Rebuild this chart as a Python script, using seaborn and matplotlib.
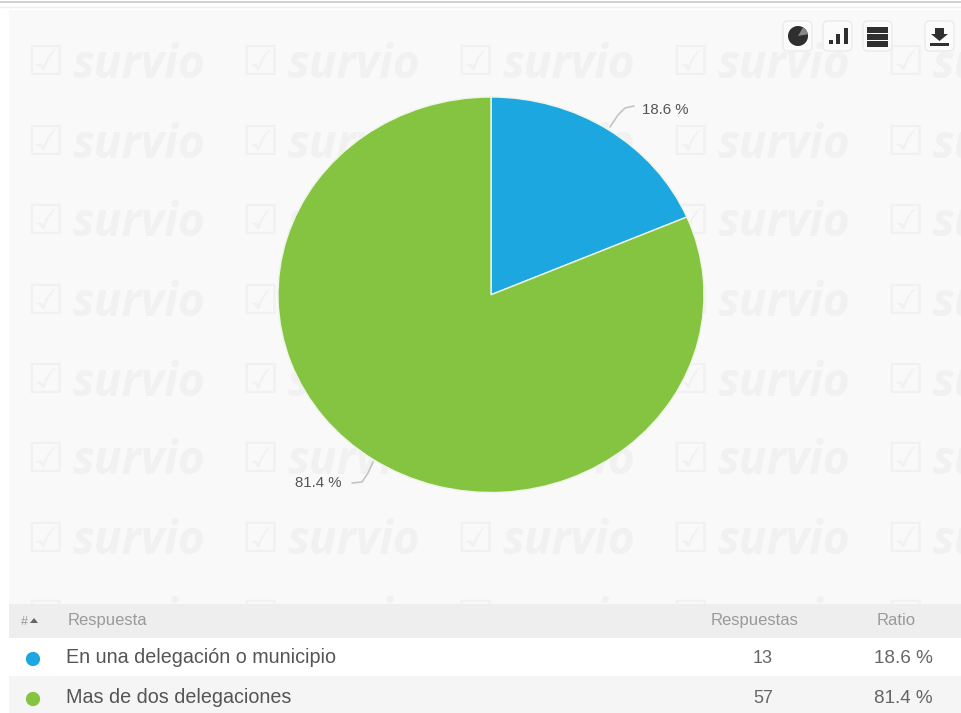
import matplotlib
matplotlib.use('Agg')
import matplotlib.pyplot as plt
from matplotlib.patches import FancyBboxPatch, Rectangle, Circle, Wedge, Polygon
import pandas as pd
import seaborn as sns

respuestas = ['En una delegación o municipio', 'Mas de dos delegaciones']
conteos = [13, 57]
ratios = ['18.6 %', '81.4 %']
colores = ['#1ca7e0', '#85c441']
cabecera = ['#', 'Respuesta', 'Respuestas', 'Ratio']

W, H = 962, 713

sns.set_theme(style='white')
plt.rcParams['font.family'] = ['Liberation Sans', 'DejaVu Sans']

fig = plt.figure(figsize=(W / 100, H / 100), dpi=100, facecolor='white')

# capa de fondo en pixeles (y hacia abajo)
bg = fig.add_axes([0, 0, 1, 1], zorder=0)
bg.set_xlim(0, W)
bg.set_ylim(H, 0)
bg.axis('off')

bg.add_patch(Rectangle((9, 10), W - 9, 600, fc='#f9f9f9', ec='none'))
bg.plot([0, W], [2, 2], color='#c9c9c9', lw=1.2)
bg.plot([0, W], [7, 7], color='#eeeeee', lw=1)

# marca de agua
for fila in [63, 143, 222, 302, 381, 460, 540, 618]:
    for col in [28, 243, 458, 673, 888]:
        bg.text(col - 2, fila, '\u2611', family='DejaVu Sans', fontsize=30, color='#f1f1f1',
                va='center', ha='left', clip_on=True)
        bg.text(col + 44, fila + 2, 'survio', family='Open Sans', fontsize=33, weight='bold',
                style='italic', color='#f1f1f1', va='center', ha='left', clip_on=True)

# tabla
bg.add_patch(Rectangle((9, 604), W - 9, 34, fc='#eeeeee', ec='none', zorder=3))
bg.add_patch(Rectangle((9, 638), W - 9, 38, fc='white', ec='none', zorder=3))
bg.add_patch(Rectangle((9, 676), W - 9, 37, fc='#f5f5f5', ec='none', zorder=3))

gris_cab = '#9a9a9a'
bg.text(21, 625, cabecera[0], fontsize=9, color=gris_cab, va='baseline', zorder=4)
bg.add_patch(Polygon([[30, 623], [38, 623], [34, 618]], fc='#666666', ec='none', zorder=4))
bg.text(68, 625, cabecera[1], fontsize=12, color=gris_cab, va='baseline', zorder=4)
bg.text(755, 625, cabecera[2], fontsize=12, color=gris_cab, va='baseline', ha='center', zorder=4)
bg.text(896, 625, cabecera[3], fontsize=12, color=gris_cab, va='baseline', ha='center', zorder=4)

filas_y = [663, 703]
tabla = pd.DataFrame({'x': [33, 33], 'y': [659, 699], 'resp': respuestas})
sns.scatterplot(data=tabla, x='x', y='y', hue='resp', palette=colores, s=105, linewidth=0,
                legend=False, ax=bg, zorder=4)
bg.set_xlim(0, W)
bg.set_ylim(H, 0)
bg.set_xlabel('')
bg.set_ylabel('')

for y, r, c, p in zip(filas_y, respuestas, conteos, ratios):
    bg.text(66, y, r, fontsize=14.2, color='#555555', va='baseline', zorder=4)
    bg.text(763, y, str(c), fontsize=13, color='#666666', va='baseline', ha='center', zorder=4)
    bg.text(903, y, p, fontsize=13.6, color='#666666', va='baseline', ha='center', zorder=4)

# botones
for x0 in [783, 823, 863, 925]:
    bg.add_patch(FancyBboxPatch((x0, 21), 29, 30, boxstyle='round,pad=0,rounding_size=5',
                                fc='#fbfbfb', ec='#ebebeb', lw=1, zorder=5))
ic = '#2f2f2f'
bg.add_patch(Circle((798, 36), 10, fc=ic, ec='none', zorder=6))
bg.add_patch(Wedge((798, 36), 10, -60, -10, fc='#888888', ec='none', zorder=6))
for x0, top in [(829, 40), (836, 34), (844, 28)]:
    bg.add_patch(Rectangle((x0, top), 4, 44 - top, fc=ic, ec='none', zorder=6))
for y0 in [27, 34, 41]:
    bg.add_patch(Rectangle((867, y0), 21, 5.5, fc=ic, ec='none', zorder=6))
bg.add_patch(Polygon([[935, 28], [944, 28], [944, 34], [948, 34], [939.5, 41], [931, 34], [935, 34]],
                     fc=ic, ec='none', zorder=6))
bg.add_patch(Rectangle((930, 43), 19, 2.5, fc=ic, ec='none', zorder=6))

# torta
ax = fig.add_axes([278 / W, 1 - 492.5 / H, 426 / W, 395.5 / H], zorder=2)
ax.pie(conteos, colors=colores, startangle=90, counterclock=False,
       wedgeprops={'edgecolor': '#eef5e6', 'linewidth': 1})
ax.set_aspect('auto')
ax.set_xlim(-1, 1)
ax.set_ylim(-1, 1)
ax.patch.set_alpha(0)

# etiquetas con linea guia
top = fig.add_axes([0, 0, 1, 1], zorder=3)
top.set_xlim(0, W)
top.set_ylim(H, 0)
top.axis('off')
top.plot([610, 618, 625, 634], [127, 115, 108, 106], color='#c4c4c4', lw=1.2)
top.plot([352, 362, 368, 373], [483, 482, 473, 462], color='#c4c4c4', lw=1.2)
top.text(642, 114, ratios[0], fontsize=10.8, color='#555555', va='baseline')
top.text(295, 487, ratios[1], fontsize=10.8, color='#555555', va='baseline')

fig.savefig('out.png', dpi=100)
